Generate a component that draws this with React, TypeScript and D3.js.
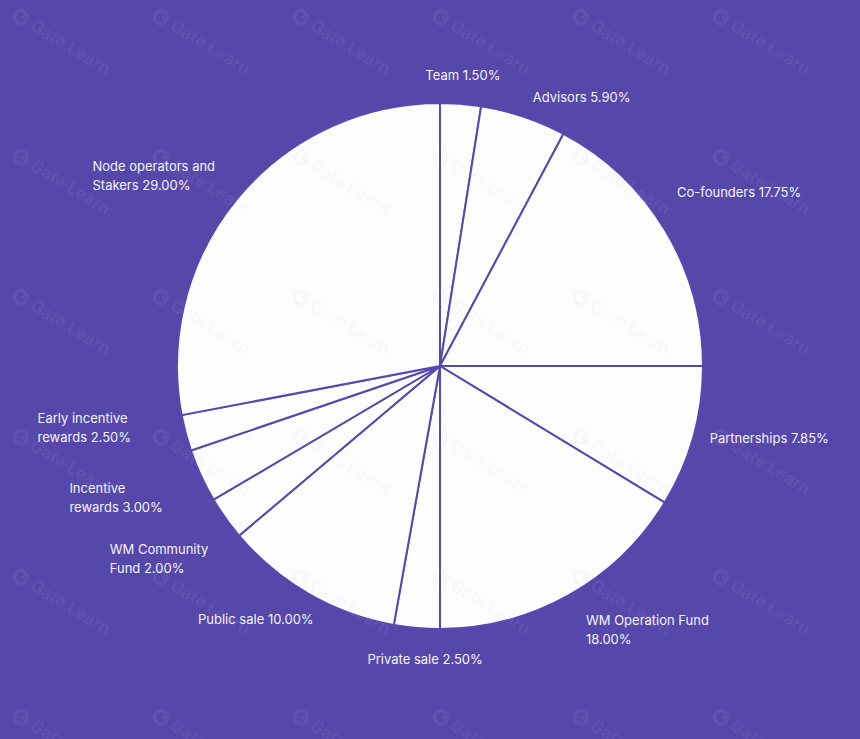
import React from "react";
import * as d3 from "d3";

const categories = [
  "Team",
  "Advisors",
  "Co-founders",
  "Partnerships",
  "WM Operation Fund",
  "Private sale",
  "Public sale",
  "WM Community Fund",
  "Incentive rewards",
  "Early incentive rewards",
  "Node operators and Stakers",
];
// slice sizes as drawn in the picture (percent of the circle)
const values = [2.5, 5.28, 17.22, 8.69, 16.31, 2.81, 11.03, 2.67, 3.28, 2.22, 27.99];
// percentages printed in the labels
const labelPercents = ["1.50%", "5.90%", "17.75%", "7.85%", "18.00%", "2.50%", "10.00%", "2.00%", "3.00%", "2.50%", "29.00%"];
// where each label wraps (first-line text), empty = single line
const labelFirstLines = [
  "",
  "",
  "",
  "",
  "WM Operation Fund",
  "",
  "",
  "WM Community",
  "Incentive",
  "Early incentive",
  "Node operators and",
];

// label layout: angular nudge (deg) and radius for each label
const labelNudge = [0, 0.5, -5.3, -0.75, 0.35, -2.15, -3.45, -4.3, -0.8, 3.5, 0.7];
const labelRadius = [292, 285, 294, 279, 301, 293, 283, 301, 307, 315, 295];

const W = 860;
const H = 739;
const CX = 440;
const CY = 366;
const R = 263;
const BG = "#5647aa";
const STROKE = "#5a48b2";
const FONT = "Inter, 'Noto Sans', sans-serif";
const FS = 13;
const LH = 19;

let ctx: CanvasRenderingContext2D | null = null;
function measure(t: string) {
  if (!ctx) {
    ctx = document.createElement("canvas").getContext("2d");
  }
  if (!ctx) return t.length * 7;
  ctx.font = `${FS}px Inter`;
  return ctx.measureText(t).width;
}

export default function App() {
  const pie = d3
    .pie<number>()
    .sort(null)
    .value((d) => d)
    .startAngle(0)
    .endAngle(2 * Math.PI);
  const arcs = pie(values);
  const arc = d3.arc<d3.PieArcDatum<number>>().innerRadius(0).outerRadius(R);

  const labels = arcs.map((a, i) => {
    const full = `${categories[i]} ${labelPercents[i]}`;
    const first = labelFirstLines[i];
    const lines = first ? [first, full.slice(first.length).trim()] : [full];
    const mid = (a.startAngle + a.endAngle) / 2 + (labelNudge[i] * Math.PI) / 180;
    const rr = labelRadius[i];
    const ax = CX + rr * Math.sin(mid);
    const ay = CY - rr * Math.cos(mid);
    const s = Math.sin(mid);
    const w = Math.max(...lines.map(measure));
    let x0 = ax;
    if (Math.abs(s) < 0.2) x0 = ax - w / 2;
    else if (s < 0) x0 = ax - w;
    const y0 = ay - ((lines.length - 1) * LH) / 2;
    return { lines, x0, y0 };
  });

  const wm: { x: number; y: number }[] = [];
  for (let i = 0; i < 6; i++) for (let j = 0; j < 6; j++) wm.push({ x: 18 + 140 * i, y: 5 + 140 * j });

  return (
    <svg
      width={W}
      height={H}
      style={{ position: "absolute", left: 0, top: 0, display: "block" }}
      fontFamily={FONT}
    >
      <rect x={0} y={0} width={W} height={H} fill={BG} />
      <g transform={`translate(${CX},${CY})`}>
        {arcs.map((a, i) => (
          <path
            key={i}
            d={arc(a) || ""}
            fill="#fdfdfd"
            stroke={STROKE}
            strokeWidth={2}
            strokeLinejoin="round"
          />
        ))}
      </g>
      {labels.map((l, i) => (
        <text key={i} fontSize={FS} fill="#f4f3fa" dominantBaseline="central">
          {l.lines.map((t, k) => (
            <tspan key={k} x={l.x0} y={l.y0 + k * LH}>
              {t}
            </tspan>
          ))}
        </text>
      ))}
      <g pointerEvents="none" opacity={0.09}>
        {wm.map((p, i) => (
          <g key={i} transform={`translate(${p.x},${p.y}) rotate(31)`}>
            <circle cx={9} cy={9} r={6.5} fill="none" stroke="#c8c8e0" strokeWidth={3.5} />
            <circle cx={11} cy={8} r={2.2} fill="#c8c8e0" />
            <text x={22} y={15} fontSize={17} fontWeight={600} fill="#c8c8e0">
              Gate Learn
            </text>
          </g>
        ))}
      </g>
    </svg>
  );
}
